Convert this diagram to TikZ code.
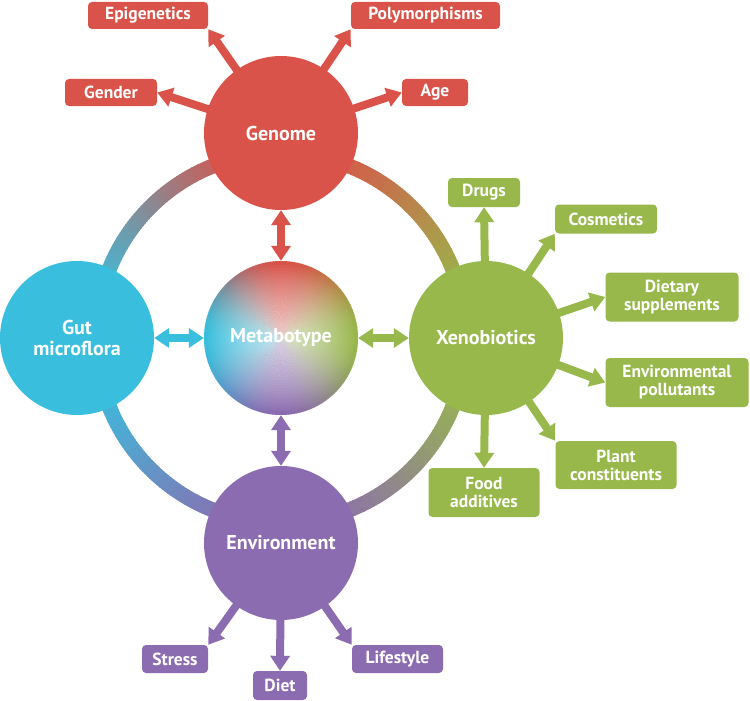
\documentclass[tikz,border=0pt]{standalone}
\usepackage{fontspec}
\setmainfont{PT Sans}
\usetikzlibrary{arrows.meta}
\pgfdeclarelayer{background}
\pgfsetlayers{background,main}
\definecolor{cred}{RGB}{217,83,74}
\definecolor{cblue}{RGB}{57,191,221}
\definecolor{cgreen}{RGB}{152,184,76}
\definecolor{cpurple}{RGB}{140,108,176}
\newcommand{\myangcol}[1]{%
  \pgfmathsetmacro{\myA}{mod(#1,360)}%
  \pgfmathtruncatemacro{\mySeg}{floor(\myA/90)}%
  \pgfmathsetmacro{\myT}{(\myA-90*\mySeg)/90}%
  \pgfmathtruncatemacro{\myP}{round(100*(1-\myT*\myT*(3-2*\myT)))}%
  \ifcase\mySeg \colorlet{mc}{cgreen!\myP!cpurple}\or
  \colorlet{mc}{cpurple!\myP!cblue}\or
  \colorlet{mc}{cblue!\myP!cred}\or
  \colorlet{mc}{cred!\myP!cgreen}\else \colorlet{mc}{cgreen}\fi}
\tikzset{
  circ/.style={circle, minimum size=154pt, inner sep=0pt, text=white,
    font=\fontsize{20}{21}\selectfont\bfseries, align=center},
  bx/.style={rounded corners=4pt, inner sep=0pt, text=white,
    font=\fontsize{17.5}{18}\selectfont\bfseries, align=center},
  arr/.style={line width=8pt, -{Triangle[width=19pt,length=15pt]}},
  darr/.style={line width=8pt, {Triangle[width=19pt,length=15pt]}-{Triangle[width=19pt,length=15pt]}}
}
\begin{document}
\begin{tikzpicture}[x=1pt,y=-1pt]
\useasboundingbox (0,0) rectangle (750,701);
% main circles
\node[circ, fill=cred] (genome) at (281,133) {Genome};
\node[circ, fill=cblue] (gut) at (77,338) {Gut\\microflora};
\node[circ, fill=cgreen] (xeno) at (486,338) {Xenobiotics};
\node[circ, fill=cpurple] (env) at (281,543) {Environment};
% metabotype gradient
\foreach \a in {0,2,...,358} {
  \myangcol{\a+1}
  \fill[mc] (281,338) -- ++(\a:77) arc[start angle=\a, end angle=\a+2.6, radius=77] -- cycle;
}
\foreach \i in {1,...,26} {
  \fill[white, opacity=0.045] (281,338) circle[radius=\i*2.8];
}
\node[circ] (metab) at (281,338) {Metabotype};
% boxes
\node[bx, fill=cred, minimum width=120pt, minimum height=27pt] (epi) at (148,15.5) {Epigenetics};
\node[bx, fill=cred, minimum width=149pt, minimum height=27pt] (poly) at (425.5,15.5) {Polymorphisms};
\node[bx, fill=cred, minimum width=92pt, minimum height=27pt] (gender) at (111,92.5) {Gender};
\node[bx, fill=cred, minimum width=66pt, minimum height=27pt] (age) at (435,92.5) {Age};
\node[bx, fill=cgreen, minimum width=72pt, minimum height=29pt] (drugs) at (484,192.5) {Drugs};
\node[bx, fill=cgreen, minimum width=102pt, minimum height=29pt] (cosm) at (606,219) {Cosmetics};
\node[bx, fill=cgreen, minimum width=133pt, minimum height=49pt] (dsup) at (672,297) {Dietary\\supplements};
\node[bx, fill=cgreen, minimum width=143pt, minimum height=49pt] (envpol) at (677,382.5) {Environmental\\pollutants};
\node[bx, fill=cgreen, minimum width=121pt, minimum height=48pt] (plant) at (616,465) {Plant\\constituents};
\node[bx, fill=cgreen, minimum width=111pt, minimum height=49pt] (food) at (484,492.5) {Food\\additives};
\node[bx, fill=cpurple, minimum width=66pt, minimum height=28pt] (stress) at (175,659) {Stress};
\node[bx, fill=cpurple, minimum width=54pt, minimum height=29pt] (diet) at (280,685.5) {Diet};
\node[bx, fill=cpurple, minimum width=91pt, minimum height=28pt] (life) at (397.5,659) {Lifestyle};
\begin{pgfonlayer}{background}
% ring
\foreach \a in {0,1,...,359} {
  \myangcol{\a+0.5}
  \draw[mc, line width=15pt] (281,338) ++(\a:185) arc[start angle=\a, end angle=\a+1.4, radius=185];
}
% arrows to boxes
\draw[arr, cred] (genome.center) -- (epi.south east);
\draw[arr, cred] (genome.center) -- (poly.south west);
\draw[arr, cred] (genome.center) -- (gender.east);
\draw[arr, cred] (genome.center) -- (age.west);
\draw[arr, cgreen] (xeno.center) -- (drugs.south);
\draw[arr, cgreen] (xeno.center) -- (cosm.south west);
\draw[arr, cgreen] (xeno.center) -- (dsup.west);
\draw[arr, cgreen] (xeno.center) -- (envpol.west);
\draw[arr, cgreen] (xeno.center) -- (plant.north west);
\draw[arr, cgreen] (xeno.center) -- (food.north);
\draw[arr, cpurple] (env.center) -- (stress.north east);
\draw[arr, cpurple] (env.center) -- (diet.north);
\draw[arr, cpurple] (env.center) -- (life.north west);
\end{pgfonlayer}
% double arrows
\draw[darr, cred] (genome) -- (metab);
\draw[darr, cblue] (gut) -- (metab);
\draw[darr, cgreen] (xeno) -- (metab);
\draw[darr, cpurple] (env) -- (metab);
\end{tikzpicture}
\end{document}
